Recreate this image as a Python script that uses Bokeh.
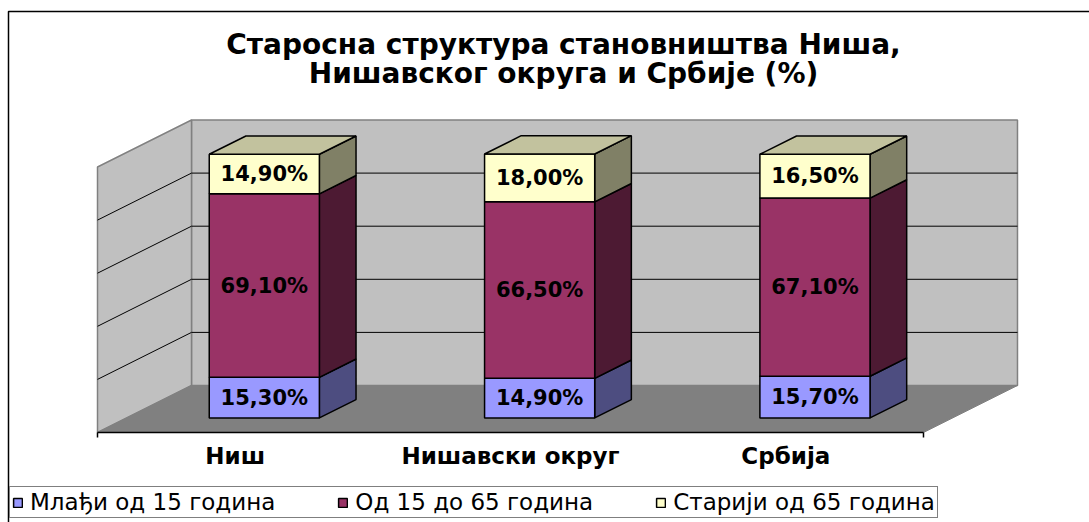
from bokeh.plotting import figure
from bokeh.models import Range1d, Label, Legend, LegendItem
from bokeh.embed import file_html
from bokeh.resources import INLINE
from bokeh.core.properties import value

# ---------------- data ----------------
title_lines = ["Старосна структура становништва Ниша,", "Нишавског округа и Србије (%)"]
categories = ["Ниш", "Нишавски округ", "Србија"]
series_names = ["Млађи од 15 година", "Од 15 до 65 година", "Старији од 65 година"]
young = [15.3, 14.9, 15.7]
middle = [69.1, 66.5, 67.1]
old = [14.9, 18.0, 16.5]
value_ticks = [0, 20, 40, 60, 80, 100]

# ---------------- styles ----------------
front_colors = ["#9999FF", "#993366", "#FFFFCC"]
side_colors = ["#4D4D80", "#4D1A33", "#808066"]
top_colors = ["#CCCCFF", "#C08099", "#C2C29E"]
FONT = "DejaVu Sans"

# ---------------- layout (pixels) ----------------
W, H = 1089, 522
X0_PX, FLOOR_PX = 97, 432          # front-left floor corner
UNIT_PX = 275.33                   # pixels per category
PCT_PX = 2.655                     # pixels per percent
DEPTH_X_PX, DEPTH_Y_PX = 94, 47    # oblique depth offset
DX = DEPTH_X_PX / UNIT_PX
DY = DEPTH_Y_PX / PCT_PX
BAR_W = 0.40
D0, D1 = 0.31, 0.70


def sx(px):
    return (px - X0_PX) / UNIT_PX


def sy(py):
    return (FLOOR_PX - py) / PCT_PX


def proj(x, y, d):
    return x + DX * d, y + DY * d


p = figure(width=W, height=H,
           x_range=Range1d(sx(0), sx(W)), y_range=Range1d(sy(H), sy(0)),
           output_backend="svg", toolbar_location=None, min_border=0,
           x_axis_location=None, y_axis_location=None,
           outline_line_color=None, background_fill_color="white",
           border_fill_color="white")
p.grid.visible = False

N = len(categories)
VMAX = value_ticks[-1]

# ---------------- walls & floor ----------------
def poly(pts):
    xs, ys = zip(*[proj(*pt) for pt in pts])
    return list(xs), list(ys)

bx, by = poly([(0, 0, 1), (N, 0, 1), (N, VMAX, 1), (0, VMAX, 1)])
lx, ly = poly([(0, 0, 0), (0, 0, 1), (0, VMAX, 1), (0, VMAX, 0)])
fx, fy = poly([(0, 0, 0), (N, 0, 0), (N, 0, 1), (0, 0, 1)])
p.patches([bx, lx], [by, ly], fill_color="#C0C0C0", line_color="#808080", line_width=1.5)
p.patches([fx], [fy], fill_color="#808080", line_color="#808080", line_width=1)

# gridlines
gxs, gys = [], []
for v in value_ticks[1:-1]:
    a, b = poly([(0, v, 1), (N, v, 1)])
    gxs.append(a); gys.append(b)
    a, b = poly([(0, v, 0), (0, v, 1)])
    gxs.append(a); gys.append(b)
p.multi_line(gxs, gys, line_color="black", line_width=1)

# category axis line + end ticks
tick_len = 5 / PCT_PX
p.multi_line([[0, N], [0, 0], [N, N]], [[0, 0], [0, -tick_len], [0, -tick_len]],
             line_color="black", line_width=1.5)

# ---------------- bars ----------------
series = [young, middle, old]
front_renderers = []
bottoms = [0.0] * N
for j, vals in enumerate(series):
    lefts, rights, bots, tops = [], [], [], []
    sxs, sys_ = [], []
    for i, v in enumerate(vals):
        c = i + 0.5
        b = bottoms[i]
        t = b + v
        l, bb = proj(c - BAR_W / 2, b, D0)
        r, tt = proj(c + BAR_W / 2, t, D0)
        lefts.append(l); rights.append(r); bots.append(bb); tops.append(tt)
        a, bq = poly([(c + BAR_W / 2, b, D0), (c + BAR_W / 2, b, D1),
                      (c + BAR_W / 2, t, D1), (c + BAR_W / 2, t, D0)])
        sxs.append(a); sys_.append(bq)
    p.patches(sxs, sys_, fill_color=side_colors[j], line_color="black", line_width=1.5)
    rend = p.quad(left=lefts, right=rights, bottom=bots, top=tops,
                  fill_color=front_colors[j], line_color="black", line_width=1.5)
    front_renderers.append(rend)
    # labels
    lab_x, lab_y, lab_t = [], [], []
    for i, v in enumerate(vals):
        x, y = proj(i + 0.5, bottoms[i] + v / 2, D0)
        lab_x.append(x); lab_y.append(y)
        lab_t.append(f"{v:.2f}%".replace(".", ","))
    bottoms = [bottoms[i] + vals[i] for i in range(N)]
    p.text(lab_x, lab_y, text=lab_t, text_font=value(FONT), text_font_style="bold",
           text_font_size="21px", text_align="center", text_baseline="middle",
           text_color="black")

# top faces
txs, tys = [], []
for i in range(N):
    c = i + 0.5
    t = bottoms[i]
    a, b = poly([(c - BAR_W / 2, t, D0), (c + BAR_W / 2, t, D0),
                 (c + BAR_W / 2, t, D1), (c - BAR_W / 2, t, D1)])
    txs.append(a); tys.append(b)
p.patches(txs, tys, fill_color=top_colors[-1], line_color="black", line_width=1.5)

# category labels
p.text([i + 0.5 for i in range(N)], [-23 / PCT_PX] * N, text=categories,
       text_font=value(FONT), text_font_style="bold", text_font_size="23px",
       text_align="center", text_baseline="middle", text_color="black")

# ---------------- title ----------------
for k, line in enumerate(title_lines):
    p.add_layout(Label(x=sx(563), y=sy(44 + 29 * k), text=line, text_font=FONT,
                       text_font_style="bold", text_font_size="28px",
                       text_align="center", text_baseline="middle",
                       text_color="black"))

# ---------------- chart border ----------------
p.line([sx(8), sx(8), sx(W + 10)], [sy(H + 10), sy(11), sy(11)],
       line_color="black", line_width=1.5)

# ---------------- legend ----------------
legend = Legend(items=[LegendItem(label=series_names[j], renderers=[front_renderers[j]])
                       for j in range(3)],
                orientation="horizontal", location=(9, 4),
                label_text_font=FONT, label_text_font_size="23px",
                label_text_color="black",
                label_standoff=7, glyph_width=11, glyph_height=11,
                spacing=62, padding=2, margin=0,
                border_line_color="black", border_line_width=1,
                background_fill_color="white", background_fill_alpha=1)
p.add_layout(legend)

open("out.html", "w").write(file_html(p, INLINE))
